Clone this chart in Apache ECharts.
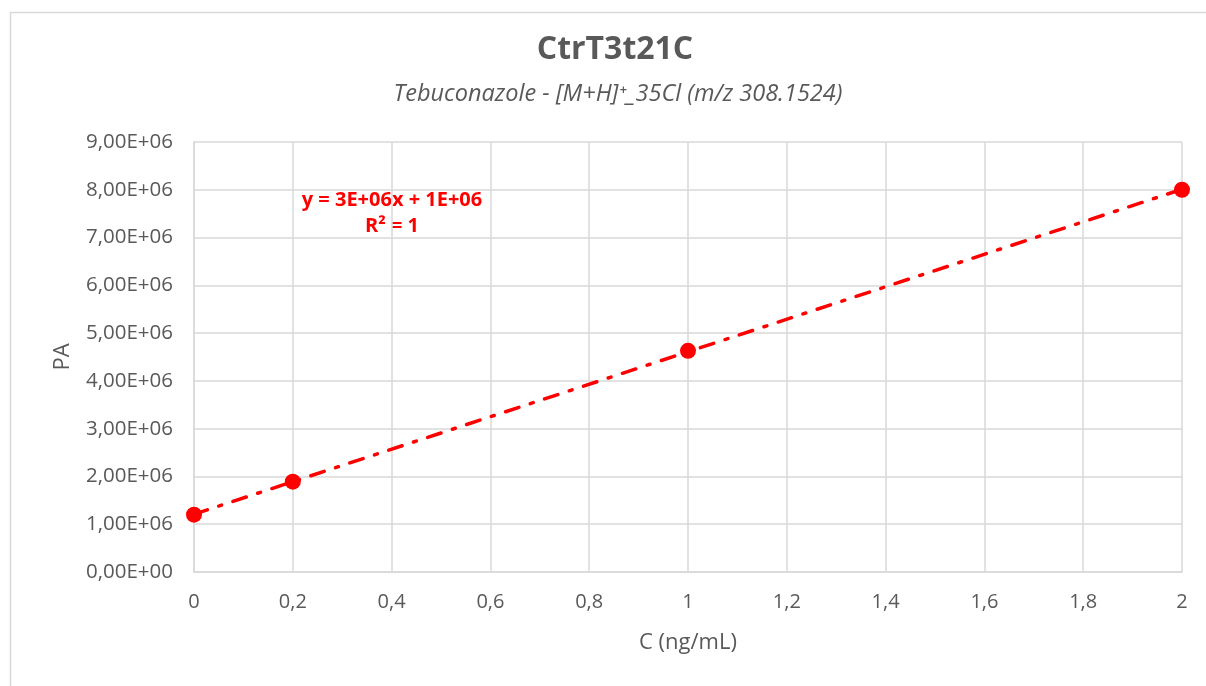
<!DOCTYPE html>
<html><head><meta charset="utf-8">
<script src="https://cdn.jsdelivr.net/npm/echarts@6/dist/echarts.min.js"></script>
<style>html,body{margin:0;padding:0;background:#fff}#c{width:1206px;height:686px}</style>
</head><body><div id="c"></div>
<script>
const concentrations = [0, 0.2, 1, 2];
const peakAreas = [1.20e6, 1.89e6, 4.63e6, 8.00e6];
const titleText = 'CtrT3t21C';
const subtitleText = 'Tebuconazole - [M+H]⁺_35Cl (m/z 308.1524)';
const equationLines = ['y = 3E+06x + 1E+06', 'R² = 1'];
const xAxisName = 'C (ng/mL)';
const yAxisName = 'PA';

// least-squares trendline derived from the data
const n = concentrations.length;
const mx = concentrations.reduce((a,b)=>a+b,0)/n;
const my = peakAreas.reduce((a,b)=>a+b,0)/n;
let sxy=0,sxx=0;
for(let i=0;i<n;i++){sxy+=(concentrations[i]-mx)*(peakAreas[i]-my);sxx+=(concentrations[i]-mx)**2;}
const slope=sxy/sxx, intercept=my-slope*mx;
const xmin=Math.min(...concentrations), xmax=Math.max(...concentrations);
const trend=[[xmin,intercept+slope*xmin],[xmax,intercept+slope*xmax]];

const font='"Open Sans", "Noto Sans", sans-serif';
const grey='#595959';
const chart=echarts.init(document.getElementById('c'));
chart.setOption({
  animation:false,
  backgroundColor:'#fff',
  title:[
    {text:titleText,left:610,top:29,textAlign:'center',textStyle:{fontFamily:font,fontSize:32,fontWeight:'bold',color:grey}},
    {text:subtitleText,left:613,top:78,textAlign:'center',textStyle:{fontFamily:font,fontSize:23.5,fontStyle:'italic',fontWeight:'normal',color:grey}}
  ],
  grid:{left:194,right:24,top:142,bottom:114,containLabel:false},
  xAxis:{type:'value',min:0,max:2,interval:0.2,
    name:xAxisName,nameLocation:'middle',nameGap:60,
    nameTextStyle:{fontFamily:font,fontSize:22,color:grey},
    axisLine:{show:true,lineStyle:{color:'#d9d9d9',width:1.5}},
    axisTick:{show:false},
    splitLine:{show:true,lineStyle:{color:'#d9d9d9',width:1.5}},
    axisLabel:{fontFamily:font,fontSize:20,color:grey,margin:20,
      formatter:v=>String(Math.round(v*10)/10).replace('.',',')}},
  yAxis:{type:'value',min:0,max:9e6,interval:1e6,
    name:yAxisName,nameLocation:'middle',nameGap:120,nameRotate:90,
    nameTextStyle:{fontFamily:font,fontSize:22,color:grey},
    axisLine:{show:true,lineStyle:{color:'#d9d9d9',width:1.5}},
    axisTick:{show:false},
    splitLine:{show:true,lineStyle:{color:'#d9d9d9',width:1.5}},
    axisLabel:{fontFamily:font,fontSize:20.5,color:grey,margin:21,
      formatter:v=>{const m=Math.round(v/1e6);return m===0?'0,00E+00':m+',00E+06';}}},
  graphic:[
    {type:'rect',left:8,top:10,silent:true,z:-10,shape:{width:1220,height:700},style:{fill:'none',stroke:'#d9d9d9',lineWidth:1.5}},
    {type:'text',x:392,y:200,style:{text:equationLines[0],align:'center',verticalAlign:'middle',font:'bold 20px '+font,fill:'#ff0000'}},
    {type:'text',x:392,y:226,style:{text:equationLines[1],align:'center',verticalAlign:'middle',font:'bold 20px '+font,fill:'#ff0000'}}
  ],
  series:[
    {type:'line',data:trend,showSymbol:false,symbol:'none',z:2,
      lineStyle:{color:'#ff0000',width:3.5,type:[14,12,3,12],cap:'round'}},
    {type:'scatter',data:concentrations.map((x,i)=>[x,peakAreas[i]]),symbol:'circle',symbolSize:16,z:3,
      itemStyle:{color:'#ff0000',opacity:1}}
  ]
});
</script></body></html>
